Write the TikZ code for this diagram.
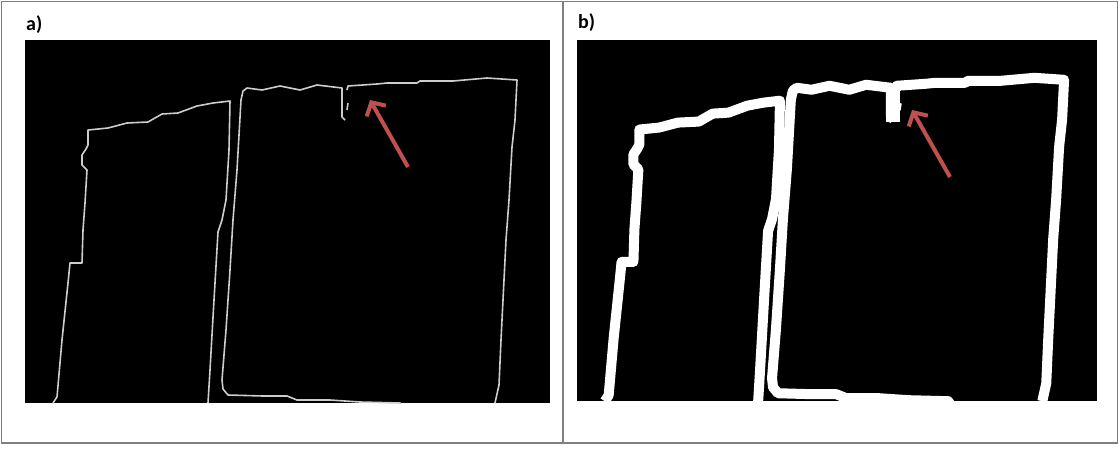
\documentclass[tikz,border=0pt]{standalone}
\usepackage{fontspec}
\setmainfont{Carlito}
\usetikzlibrary{arrows.meta}
\definecolor{arrowred}{RGB}{192,80,77}
\definecolor{framegray}{RGB}{127,127,127}
\definecolor{edgegray}{RGB}{205,205,205}

\newcommand{\parcels}[1]{%
  \draw[#1] (53,403) -- (57,397) -- (62,340) -- (68,283) -- (70,263) -- (82,263)
    -- (83,230) -- (85,203) -- (87,170) -- (82,165) -- (82,155) -- (86,149) -- (88,145)
    -- (88,130) -- (108,128) -- (127,123) -- (148,122) -- (162,114) -- (178,113)
    -- (197,106) -- (213,103) -- (230,101) -- (229,150) -- (226,200) -- (222,220)
    -- (218,232) -- (214,300) -- (210,370) -- (208,403);
  \draw[#1] (345,120) -- (342,117) -- (342,88) -- (317,85) -- (300,90) -- (280,86)
    -- (262,90) -- (247,88) -- (243,91) -- (241,100) -- (237,170) -- (233,220)
    -- (230,270) -- (226,330) -- (222,380) -- (223,389) -- (228,395) -- (263,396)
    -- (287,396) -- (297,400) -- (330,400) -- (360,402) -- (400,403) -- (402,406);
  \draw[#1] (347,90) -- (348,86) -- (377,84) -- (387,83) -- (417,83) -- (420,81)
    -- (453,81) -- (487,78) -- (517,80) -- (515,120) -- (512,147) -- (509,200)
    -- (506,240) -- (503,300) -- (501,340) -- (499,385) -- (495,403);
  \draw[#1] (348,103) -- (347,110);
}

\begin{document}
\begin{tikzpicture}[x=1pt,y=-1pt,
    lbl/.style={font=\fontsize{20}{24}\selectfont\bfseries, inner sep=0pt, anchor=base west},
    thinedge/.style={draw=edgegray, line width=1.6pt, line join=round},
    thickedge/.style={draw=white, line width=10pt, line join=round},
    pointer/.style={draw=arrowred, line width=4pt, -{Straight Barb[length=10pt,width=22pt]}}]
  \useasboundingbox (0,0) rectangle (1119,448);
  \draw[framegray, line width=1.5pt] (1.5,1.5) rectangle (1117.5,443);
  \draw[framegray, line width=1.5pt] (563,1.5) -- (563,443);

  \node[lbl] (labA) at (26,30) {a)};
  \node[lbl] (labB) at (578,28) {b)};

  % edge image
  \fill (25,40) rectangle (550,403);
  \begin{scope}
    \clip (25,40) rectangle (550,403);
    \parcels{thinedge}
  \end{scope}
  \coordinate (tailA) at (408,167);
  \coordinate (tipA) at (370,100);
  \draw[pointer] (tailA) -- (tipA);

  % dilated image
  \fill (577,40) rectangle (1097,401);
  \begin{scope}
    \clip (577,40) rectangle (1097,401);
    \begin{scope}[shift={(552.25,0.2)}, xscale=0.99, yscale=0.995]
      \parcels{thickedge}
    \end{scope}
    \fill[white] (886,88) rectangle (900,122);
  \end{scope}
  \coordinate (tailB) at (950,177);
  \coordinate (tipB) at (912,110);
  \draw[pointer] (tailB) -- (tipB);
\end{tikzpicture}
\end{document}
